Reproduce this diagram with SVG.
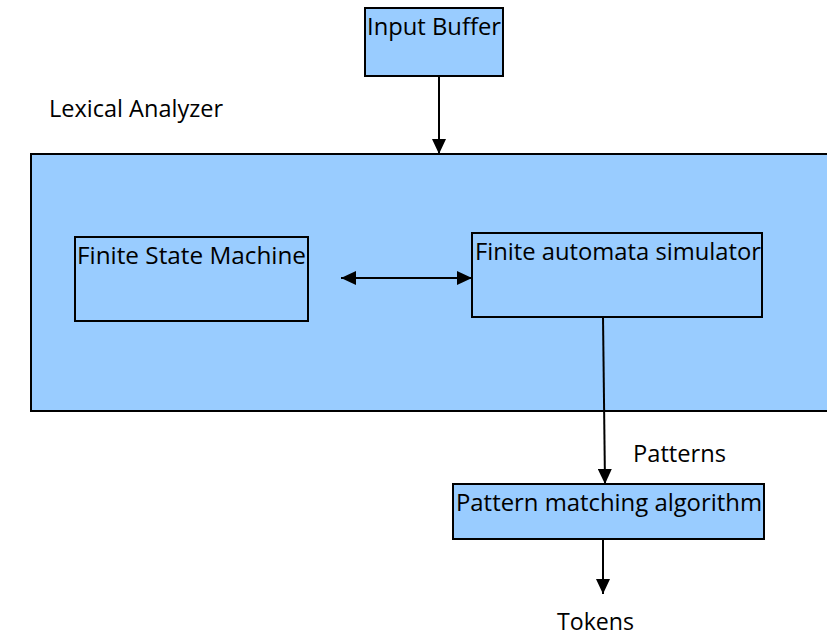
<svg xmlns="http://www.w3.org/2000/svg" width="827" height="638" viewBox="0 0 827 638">
<style>
.box{fill:#99CCFF;stroke:#000;stroke-width:2}
.t{font-family:"Open Sans","Noto Sans",sans-serif;font-size:23px;fill:#000}
.c{stroke:#000;stroke-width:2;fill:none}
</style>
<defs>
<marker id="ah" viewBox="0 0 15 14" refX="15" refY="7" markerWidth="15" markerHeight="14" markerUnits="userSpaceOnUse" orient="auto-start-reverse">
<path d="M0,0 L15,7 L0,14 Z" fill="#000"/>
</marker>
</defs>
<rect width="827" height="638" fill="#fff"/>
<g id="lexical-analyzer">
<rect class="box" x="31" y="154" width="800" height="257"/>
<text class="t" x="49" y="117" textLength="174" lengthAdjust="spacingAndGlyphs">Lexical Analyzer</text>
</g>
<g id="input-buffer">
<rect class="box" x="365" y="8" width="138" height="68"/>
<text class="t" x="367" y="35" textLength="134" lengthAdjust="spacingAndGlyphs">Input Buffer</text>
</g>
<g id="finite-state-machine">
<rect class="box" x="75" y="237" width="233" height="84"/>
<text class="t" x="77" y="264" textLength="229" lengthAdjust="spacingAndGlyphs">Finite State Machine</text>
</g>
<g id="finite-automata-simulator">
<rect class="box" x="472" y="233" width="290" height="84"/>
<text class="t" x="475" y="260" textLength="286" lengthAdjust="spacingAndGlyphs">Finite automata simulator</text>
</g>
<g id="pattern-matching">
<rect class="box" x="453" y="484" width="311" height="55"/>
<text class="t" x="456" y="511" textLength="306" lengthAdjust="spacingAndGlyphs">Pattern matching algorithm</text>
</g>
<g id="connectors">
<line class="c" x1="439" y1="76" x2="439" y2="154" marker-end="url(#ah)"/>
<line class="c" x1="341" y1="278" x2="472" y2="278" marker-start="url(#ah)" marker-end="url(#ah)"/>
<line class="c" x1="603" y1="317" x2="605" y2="484" marker-end="url(#ah)"/>
<line class="c" x1="603" y1="539" x2="603" y2="594" marker-end="url(#ah)"/>
<text class="t" x="633" y="462" textLength="93" lengthAdjust="spacingAndGlyphs">Patterns</text>
<text class="t" x="557" y="630" textLength="77" lengthAdjust="spacingAndGlyphs">Tokens</text>
</g>
</svg>
